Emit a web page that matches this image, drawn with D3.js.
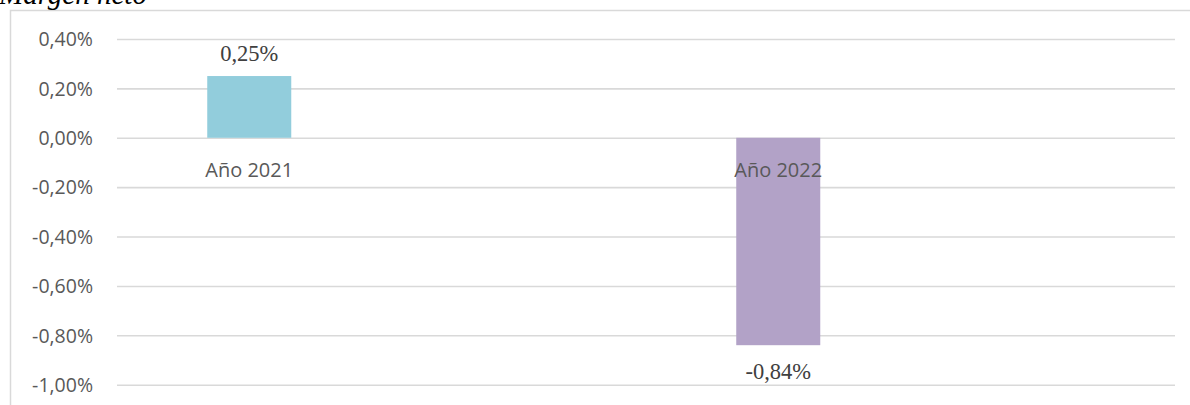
<!DOCTYPE html>
<html>
<head>
<meta charset="utf-8">
<script src="https://cdn.jsdelivr.net/npm/d3@7"></script>
<style>
  html, body { margin: 0; padding: 0; background: #fff; overflow: hidden; }
  .tick text { font-family: "Open Sans", sans-serif; font-size: 19.5px; fill: #595959; }
</style>
</head>
<body>
<svg id="chart" width="1190" height="405"></svg>
<script>
// chart data
const title = 'Margen neto';
const categories = ['Año 2021', 'Año 2022'];
const values = [0.0025, -0.0084];
const barColours = ['#92cddc', '#b2a2c7'];
const yTicks = [0.004, 0.002, 0, -0.002, -0.004, -0.006, -0.008, -0.010];

const svg = d3.select('#chart');

const locale = d3.formatLocale({ decimal: ',', thousands: '.', grouping: [3], currency: ['', '€'], minus: '-' });
const pct = locale.format('.2%');

const margin = { left: 117, right: 15, top: 39, bottom: 20 };
const x0 = d3.scaleBand()
  .domain(categories)
  .range([margin.left, 1190 - margin.right]);

// two slots per category, only the first one is filled (like the original)
const x1 = d3.scaleBand()
  .domain(['s1', 's2'])
  .range([0, x0.bandwidth()])
  .paddingInner(0.6824)
  .paddingOuter(0.3412);

const y = d3.scaleLinear()
  .domain([-0.010, 0.004])
  .range([384.7, 39]);

// chart frame
svg.append('rect')
  .attr('x', 10.5).attr('y', 10.5)
  .attr('width', 1200).attr('height', 420)
  .attr('fill', 'none')
  .attr('stroke', '#d9d9d9')
  .attr('stroke-width', 1.5);

// title (its top is cut off by the page edge in the original)
svg.append('text')
  .attr('x', -1).attr('y', 4)
  .attr('font-family', '"Liberation Serif", "Times New Roman", serif')
  .attr('font-style', 'italic')
  .attr('font-size', 29)
  .attr('fill', '#000')
  .text(title);

const yAxis = d3.axisLeft(y)
  .tickValues(yTicks)
  .tickFormat(pct)
  .tickSize(-(x0.range()[1] - margin.left))
  .tickPadding(24);

const yAxisG = svg.append('g')
  .attr('transform', `translate(${margin.left},0)`)
  .call(yAxis);
yAxisG.select('.domain').remove();
yAxisG.selectAll('.tick line')
  .attr('stroke', '#d9d9d9')
  .attr('stroke-width', 1.6);
yAxisG.selectAll('.tick text').attr('dy', '0.35em');

// bars
const barX = d => x0(d) + x1('s1');
svg.selectAll('.bar').data(categories)
  .enter().append('rect')
  .attr('class', 'bar')
  .attr('x', d => barX(d))
  .attr('width', x1.bandwidth())
  .attr('y', (d, i) => y(Math.max(0, values[i])))
  .attr('height', (d, i) => Math.abs(y(values[i]) - y(0)))
  .attr('fill', (d, i) => barColours[i]);

// category labels, sitting just under the zero line
svg.selectAll('.cat').data(categories)
  .enter().append('text')
  .attr('class', 'cat')
  .attr('x', d => barX(d) + x1.bandwidth() / 2)
  .attr('y', y(0) + 39.5)
  .attr('text-anchor', 'middle')
  .attr('font-family', '"Open Sans", sans-serif')
  .attr('font-size', 20)
  .attr('fill', '#595959')
  .text(d => d);

// value labels
svg.selectAll('.val').data(categories)
  .enter().append('text')
  .attr('class', 'val')
  .attr('x', d => barX(d) + x1.bandwidth() / 2)
  .attr('y', (d, i) => values[i] >= 0 ? y(values[i]) - 15.5 : y(values[i]) + 33.5)
  .attr('text-anchor', 'middle')
  .attr('font-family', '"Liberation Serif", "Times New Roman", serif')
  .attr('font-size', 22.5)
  .attr('fill', '#404040')
  .text((d, i) => pct(values[i]));
</script>
</body>
</html>
